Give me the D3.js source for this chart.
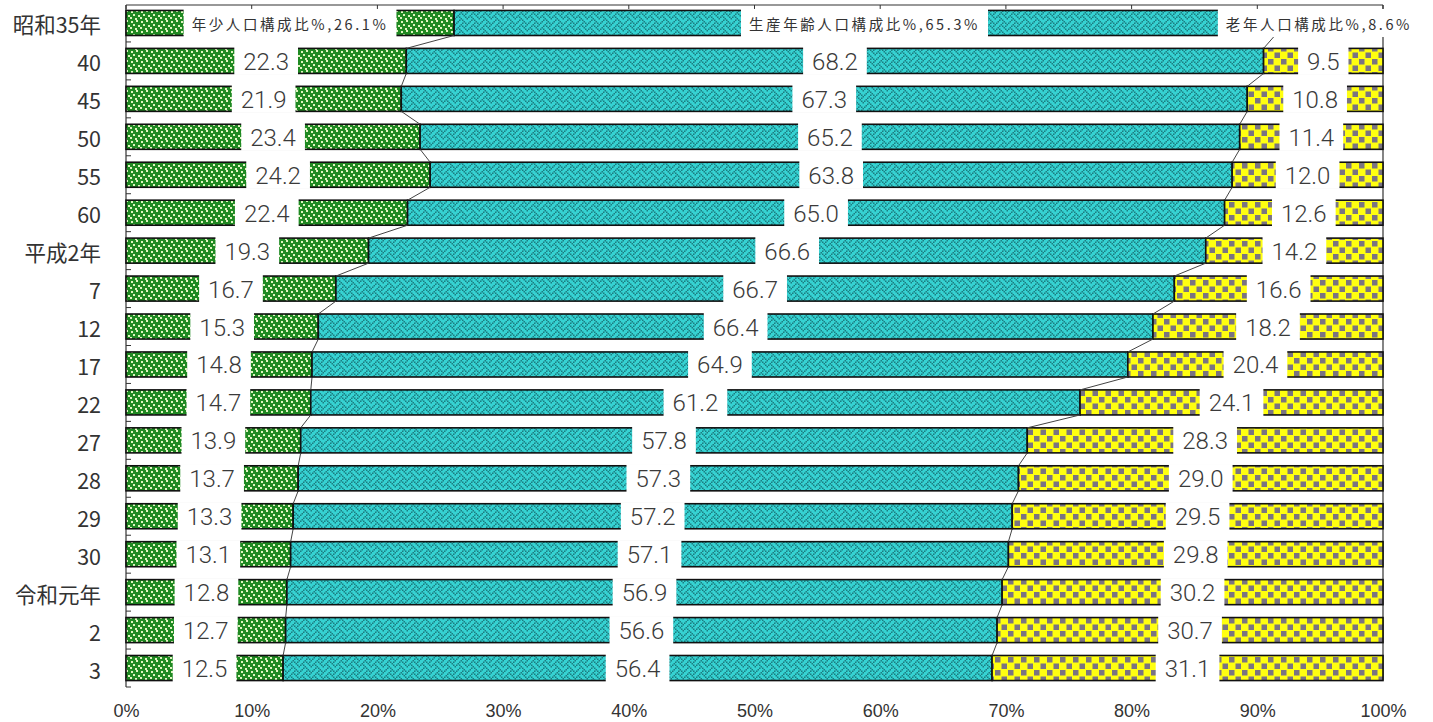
<!DOCTYPE html>
<html><head><meta charset="utf-8">
<script src="https://cdn.jsdelivr.net/npm/d3@7/dist/d3.min.js"></script>
<style>
html,body{margin:0;padding:0;background:#fff;}
svg{display:block;}
</style></head>
<body>
<svg id="chart" width="1433" height="722"></svg>
<script>
const categories = ["昭和35年","40","45","50","55","60","平成2年","7","12","17","22","27","28","29","30","令和元年","2","3"];
const young   = [26.1,22.3,21.9,23.4,24.2,22.4,19.3,16.7,15.3,14.8,14.7,13.9,13.7,13.3,13.1,12.8,12.7,12.5];
const working = [65.3,68.2,67.3,65.2,63.8,65.0,66.6,66.7,66.4,64.9,61.2,57.8,57.3,57.2,57.1,56.9,56.6,56.4];
const old     = [8.6,9.5,10.8,11.4,12.0,12.6,14.2,16.6,18.2,20.4,24.1,28.3,29.0,29.5,29.8,30.2,30.7,31.1];
const seriesNames = ["年少人口構成比%","生産年齢人口構成比%","老年人口構成比%"];
const xTicks = [0,10,20,30,40,50,60,70,80,90,100];

const svg = d3.select("#chart");
const x = d3.scaleLinear().domain([0,100]).range([126,1383]);
const y = d3.scaleBand().domain(categories).range([4,687]).paddingInner(0.34).paddingOuter(0.17);
const bw = y.bandwidth();

// patterns
const defs = svg.append("defs");
const pG = defs.append("pattern").attr("id","pYoung").attr("patternUnits","userSpaceOnUse").attr("width",10).attr("height",10);
pG.append("rect").attr("width",10).attr("height",10).attr("fill","#1f8a22");
[[1,1],[6,0],[3,4],[8,5],[0,7],[5,8]].forEach(([a,b])=>pG.append("rect").attr("x",a).attr("y",b).attr("width",2).attr("height",2).attr("fill","#e0f4c0"));
const s = 1.5;
const pC = defs.append("pattern").attr("id","pWork").attr("patternUnits","userSpaceOnUse").attr("width",8*s).attr("height",8*s);
pC.append("rect").attr("width",8*s).attr("height",8*s).attr("fill","#36d2d2");
const weave = [0x11,0x2A,0x44,0xA2,0x11,0x28,0x44,0x8A];
weave.forEach((row,r)=>{
  for(let c=0;c<8;c++){
    if(row & (0x80>>c)) pC.append("rect").attr("x",c*s).attr("y",r*s).attr("width",s).attr("height",s).attr("fill","#1b7d80");
  }
});
const pY = defs.append("pattern").attr("id","pOld").attr("patternUnits","userSpaceOnUse").attr("width",13).attr("height",13);
pY.append("rect").attr("width",13).attr("height",13).attr("fill","#ffff10");
pY.append("rect").attr("x",0.5).attr("y",0.5).attr("width",5.5).attr("height",5.5).attr("fill","#7a7482");
pY.append("rect").attr("x",7).attr("y",7).attr("width",5.5).attr("height",5.5).attr("fill","#7a7482");

// frame lines
svg.append("line").attr("x1",x(0)).attr("x2",x(100)).attr("y1",5).attr("y2",5).attr("stroke","#333").attr("stroke-width",1.2);
svg.selectAll(".ttick").data(xTicks).join("line").attr("x1",d=>x(d)).attr("x2",d=>x(d)).attr("y1",5).attr("y2",9).attr("stroke","#333").attr("stroke-width",1);
svg.append("line").attr("x1",x(0)).attr("x2",x(0)).attr("y1",5).attr("y2",687).attr("stroke","#333").attr("stroke-width",1.2);
svg.append("line").attr("x1",x(100)).attr("x2",x(100)).attr("y1",5).attr("y2",y(categories[17])+bw).attr("stroke","#333").attr("stroke-width",1.2);
const bounds = d3.range(categories.length+1).map(i=>4+i*y.step());
svg.selectAll(".ctick").data(bounds.slice(1)).join("line").attr("x1",x(0)).attr("x2",x(0)+5).attr("y1",d=>d).attr("y2",d=>d).attr("stroke","#333").attr("stroke-width",1);

// bars
const rows = categories.map((c,i)=>({c,i,segs:[
  {k:0,x0:0,x1:young[i],v:young[i]},
  {k:1,x0:young[i],x1:young[i]+working[i],v:working[i]},
  {k:2,x0:young[i]+working[i],x1:100,v:old[i]}
]}));
const fills = ["url(#pYoung)","url(#pWork)","url(#pOld)"];
const gBars = svg.append("g");
rows.forEach(r=>{
  gBars.selectAll(null).data(r.segs).join("rect")
    .attr("x",d=>x(d.x0)).attr("y",y(r.c)).attr("width",d=>x(d.x1)-x(d.x0)).attr("height",bw)
    .attr("fill",d=>fills[d.k]).attr("stroke","#111").attr("stroke-width",1.6);
});

// series lines
const cum1 = young;
const cum2 = young.map((v,i)=>v+working[i]);
[cum1,cum2].forEach(cum=>{
  for(let i=0;i<categories.length-1;i++){
    svg.append("line").attr("x1",x(cum[i])).attr("y1",y(categories[i])+bw)
      .attr("x2",x(cum[i+1])).attr("y2",y(categories[i+1]))
      .attr("stroke","#444").attr("stroke-width",1);
  }
});

// labels
const gLab = svg.append("g");
rows.forEach(r=>{
  r.segs.forEach(d=>{
    const cx = x((d.x0+d.x1)/2) + (r.i===0 && d.k===2 ? -10 : 0);
    const cy = y(r.c)+bw/2;
    const first = r.i===0;
    const txt = first ? `${seriesNames[d.k]},${d.v.toFixed(1)}%` : d.v.toFixed(1);
    const bg = gLab.append("rect").attr("fill","#fff");
    const t = gLab.append("text").attr("x",cx).attr("y",cy+1).attr("text-anchor","middle").attr("dominant-baseline","central")
      .attr("fill", first ? "#333" : "#3a3a3a")
      .style("font-family", first ? "'Noto Sans CJK JP', sans-serif" : "Roboto, 'Liberation Sans', sans-serif")
      .style("font-weight", first ? "400" : "300")
      .style("font-size", first ? "14.5px" : "24px")
      .style("letter-spacing", first ? "2.6px" : "0px")
      .text(txt);
    const w = t.node().getComputedTextLength();
    const pad = first ? 8 : 9;
    bg.attr("x",cx-w/2-pad).attr("width",w+2*pad).attr("y",y(r.c)-1.5).attr("height",bw+3);
  });
});

// category labels
svg.selectAll(".clab").data(categories).join("text")
  .attr("x",101).attr("y",d=>y(d)+bw/2+1).attr("text-anchor","end").attr("dominant-baseline","central")
  .attr("fill","#333").style("font-family","'Noto Sans CJK JP', sans-serif").style("font-size","21.5px").style("font-weight","400")
  .text(d=>d);

// bottom axis
const ax = svg.append("g").attr("transform","translate(0,700)")
  .call(d3.axisBottom(x).tickValues(xTicks).tickFormat(d=>d+"%").tickSize(0).tickPadding(4));
ax.select(".domain").remove();
ax.selectAll("text").attr("fill","#333").style("font-family","'Liberation Sans', Arial, sans-serif").style("font-weight","400").style("font-size","18px");
</script>
</body></html>
